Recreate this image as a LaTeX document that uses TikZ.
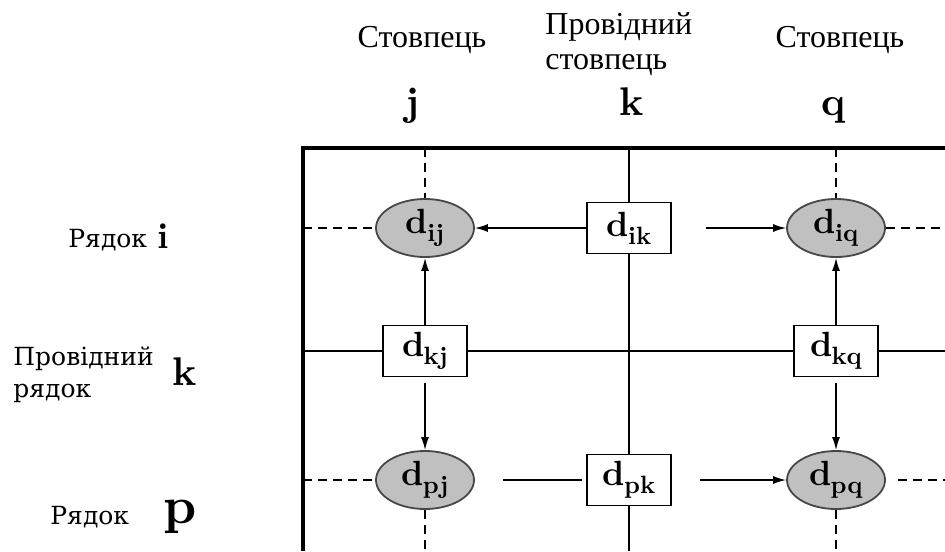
\documentclass[tikz,border=0pt]{standalone}
\usepackage{fontspec}
\usepackage{tikz}
\usepackage{xcolor}
\usetikzlibrary{arrows.meta,shapes.geometric}
\newfontfamily\headfont{Liberation Serif}
\newfontfamily\sidefont{DejaVu Serif}
\newfontfamily\idxfont{lmroman10-bold}[Extension=.otf]
\definecolor{cellgray}{HTML}{C0C0C0}
\definecolor{rimgray}{HTML}{474747}

\newcommand{\dsub}[1]{d\kern-0.5pt\raisebox{-0.5ex}{\fontsize{12.5}{13}\selectfont #1}}

\tikzset{
  pivot/.style={draw, line width=0.9pt, fill=white, minimum width=42pt,
                minimum height=25.5pt, inner sep=0pt, font=\idxfont\fontsize{17.5}{20}\selectfont},
  cell/.style={ellipse, draw=rimgray, line width=0.9pt, fill=cellgray, minimum width=49pt,
               minimum height=29pt, inner sep=0pt, font=\idxfont\fontsize{17.5}{20}\selectfont},
  frameline/.style={line width=1.9pt},
  gridline/.style={line width=1.4pt},
  guide/.style={line width=1.1pt, dash pattern=on 4.5pt off 3pt},
  flow/.style={line width=0.7pt, -{Latex[length=6.5pt,width=4pt]}},
  headlabel/.style={font=\headfont\fontsize{16}{17.5}\selectfont, inner sep=0pt},
  sidelabel/.style={font=\sidefont\fontsize{12.5}{16}\selectfont, inner sep=0pt, anchor=base west},
  index/.style={font=\idxfont\fontsize{20}{20}\selectfont, inner sep=0pt, anchor=base},
}

\begin{document}
\begin{tikzpicture}[x=0.5pt, y=-0.5pt]
  \useasboundingbox (0,0) rectangle (945,551);
  \coordinate (ftop) at (303,148);
  \coordinate (fbot) at (303,551);
  \coordinate (fright) at (945,148);

  % table elements
  \node[cell]  (dij) at (425,228) {\dsub{ij}};
  \node[pivot] (dik) at (629,228) {\dsub{ik}};
  \node[cell]  (diq) at (836,228) {\dsub{iq}};
  \node[pivot] (dkj) at (425,351) {\dsub{kj}};
  \node[pivot] (dkq) at (836,351) {\dsub{kq}};
  \node[cell]  (dpj) at (425,480) {\dsub{pj}};
  \node[pivot] (dpk) at (629,480) {\dsub{pk}};
  \node[cell]  (dpq) at (836,480) {\dsub{pq}};

  % pivot row and column
  \draw[gridline] (ftop |- dkj) -- (dkj.west) (dkj.east) -- (dkq.west)
                  (dkq.east) -- (fright |- dkq);
  \draw[gridline] (dik |- ftop) -- (dik.north) (dik.south) -- (dpk.north)
                  (dpk.south) -- (dpk |- fbot);
  \draw[frameline] (fbot) -- (ftop) -- (fright);

  % rows i and p
  \draw[guide] (ftop |- dij) -- (dij.west);
  \draw[flow] (dik.west) -- (dij.east);
  \draw[flow, shorten <=17pt] (dik.east) -- (diq.west);
  \draw[guide] (diq.east) -- (fright |- diq);
  \draw[guide] (ftop |- dpj) -- (dpj.west);
  \draw[line width=0.7pt, shorten <=14pt, shorten >=2pt] (dpj.east) -- (dpk.west);
  \draw[flow, shorten <=14pt] (dpk.east) -- (dpq.west);
  \draw[guide, shorten <=6pt] (dpq.east) -- (fright |- dpq);

  % columns j and q
  \foreach \up/\mid/\dn in {dij/dkj/dpj, diq/dkq/dpq} {
    \draw[guide] (\up.north |- ftop) -- (\up.north);
    \draw[flow] (\mid.north) -- (\up.south);
    \draw[flow, shorten <=3pt] (\mid.south) -- (\dn.north);
    \draw[guide] (\dn.south) -- (\dn.south |- fbot);
  }

  % headings
  \node[headlabel, anchor=base] (colj) at (422,47) {Стовпець};
  \node[headlabel, anchor=north west, align=left] (colk) at (545,12) {Провідний\\стовпець};
  \node[headlabel, anchor=base] (colq) at (840,47) {Стовпець};
  \node[index] (idxj) at (413,115) {j};
  \node[index] (idxk) at (632,115) {k};
  \node[index] (idxq) at (834,115) {q};

  \node[sidelabel] (rowi) at (68,247) {Рядок};
  \node[index, font=\idxfont\fontsize{18}{18}\selectfont] (idxi) at (163,248) {i};
  \node[sidelabel, anchor=north west, align=left] (rowk) at (13,346) {Провідний\\рядок};
  \node[index] (idxkr) at (185,385) {k};
  \node[sidelabel] (rowp) at (50,524) {Рядок};
  \node[index, font=\idxfont\fontsize{26}{26}\selectfont] (idxp) at (180,523) {p};
\end{tikzpicture}
\end{document}
